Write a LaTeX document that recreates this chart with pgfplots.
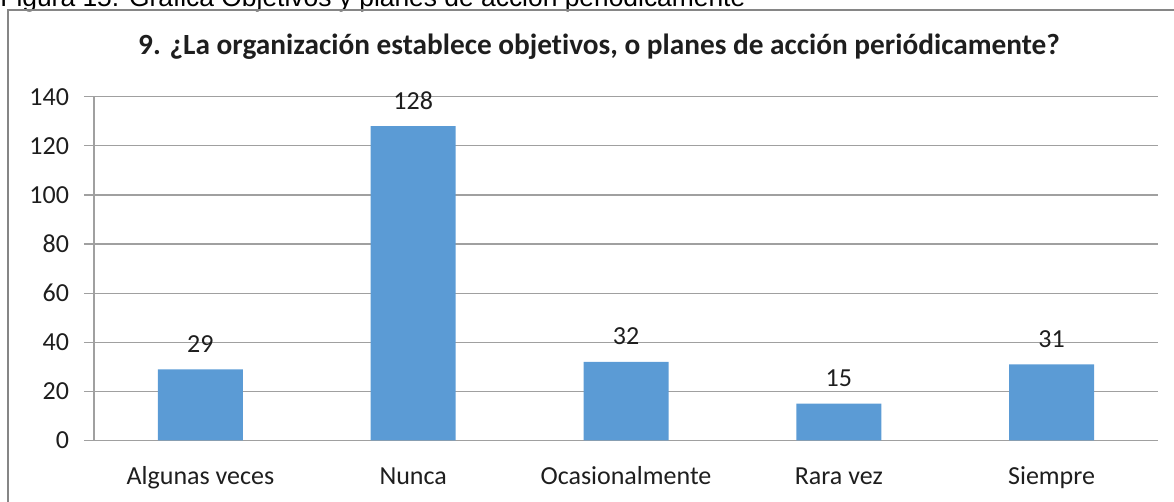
\documentclass[border=0pt]{standalone}
\usepackage{fontspec}
\setmainfont{Carlito}[Ligatures=NoCommon]
\newfontfamily\capfont{Liberation Sans}
\usepackage{pgfplots}
\pgfplotsset{compat=1.18}
\definecolor{barblue}{RGB}{91,155,213}
\definecolor{gridgray}{RGB}{160,160,160}
\definecolor{framegray}{RGB}{134,134,134}
\definecolor{txt}{RGB}{30,30,30}
\begin{document}
\begin{tikzpicture}[x=0.5pt,y=0.5pt]
\clip (0,0) rectangle (1174,502);
\path[use as bounding box] (0,0) rectangle (1174,502);
% caption (cut off at top)
\node[anchor=base west, inner sep=0pt, font=\capfont\fontsize{13.2pt}{15pt}\selectfont] at (0,495) {Figura 15. Gráfica Objetivos y planes de acción periódicamente};
% frame
\draw[framegray, line width=0.6pt] (8,-5) -- (8,492) -- (1180,492);
% title
\node[anchor=center, inner sep=0pt, font=\bfseries\fontsize{14.65pt}{16pt}\selectfont, text=txt] at (599,455) {9. ¿La organización establece objetivos, o planes de acción periódicamente?};
\begin{axis}[
  at={(47pt,30.75pt)}, anchor=south west,
  scale only axis, width=532pt, height=171.9pt,
  xmin=-0.5, xmax=4.5, ymin=0, ymax=140,
  ytick={0,20,...,140},
  xtick={0,1,2,3,4},
  xticklabels={Algunas veces,Nunca,Ocasionalmente,Rara vez,Siempre},
  major x tick style={draw=none},
  extra x ticks={-0.5,0.5,1.5,2.5,3.5,4.5},
  extra x tick labels={},
  extra x tick style={grid=none, major tick style={draw=gridgray, line width=0.6pt}},
  axis x line*=bottom, axis y line*=left,
  axis line style={draw=gridgray, line width=0.6pt, -},
  tick align=outside, major tick length=5pt,
  tick style={draw=gridgray, line width=0.6pt},
  ymajorgrids, grid style={draw=gridgray, line width=0.6pt},
  /pgf/number format/assume math mode=true,
  ticklabel style={font=\fontsize{13pt}{15pt}\selectfont, text=txt},
  yticklabel style={anchor=east, xshift=-4pt},
  xticklabel style={anchor=base, yshift=-17pt},
  ybar, bar width=42.5pt,
  nodes near coords,
  every node near coord/.append style={font=\fontsize{13pt}{15pt}\selectfont, text=txt, anchor=base, yshift=8.5pt},
  clip=false,
]
\addplot[fill=barblue, draw=none, bar shift=0pt] coordinates {(0,29) (1,128) (2,32) (3,15) (4,31)};
\end{axis}
\end{tikzpicture}
\end{document}
